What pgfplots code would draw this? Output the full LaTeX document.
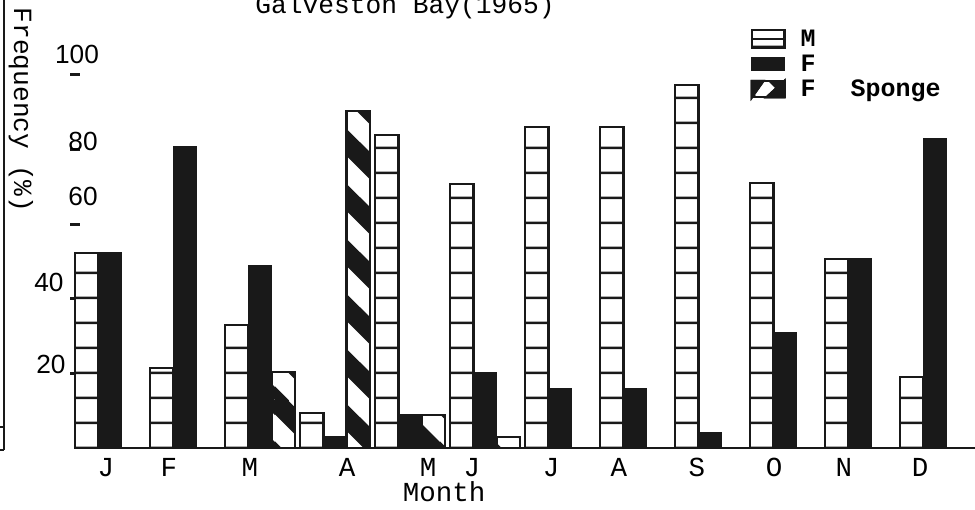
\documentclass[border=0pt]{standalone}
\usepackage{fontspec}
\setmainfont{Liberation Mono}
\newfontfamily\numfont{Liberation Sans}
\usepackage{pgfplots}
\pgfplotsset{compat=1.18}
\usetikzlibrary{patterns}

\pgfdeclarepatternformonly{hstripes}{\pgfpointorigin}{\pgfpoint{10pt}{10pt}}{\pgfpoint{10pt}{10pt}}{%
  \pgfsetlinewidth{1pt}%
  \pgfpathmoveto{\pgfpoint{-1pt}{5pt}}\pgfpathlineto{\pgfpoint{11pt}{5pt}}\pgfusepath{stroke}}

\pgfdeclarepatternformonly{sponge}{\pgfpointorigin}{\pgfpoint{22pt}{22pt}}{\pgfpoint{22pt}{22pt}}{%
  \pgfsetlinewidth{7.8pt}%
  \pgfpathmoveto{\pgfpoint{-11pt}{11pt}}\pgfpathlineto{\pgfpoint{11pt}{-11pt}}%
  \pgfpathmoveto{\pgfpoint{0pt}{22pt}}\pgfpathlineto{\pgfpoint{22pt}{0pt}}%
  \pgfpathmoveto{\pgfpoint{11pt}{33pt}}\pgfpathlineto{\pgfpoint{33pt}{11pt}}%
  \pgfusepath{stroke}}

\definecolor{ink}{RGB}{25,25,25}

\pgfplotstableread{
x y
0.155 52.3
1.155 21.4
2.155 33.0
3.155 9.4
4.155 83.9
5.155 70.8
6.155 86.0
7.155 86.0
8.155 97.3
9.155 71.0
10.155 50.7
11.155 19.0
}\tableM

\pgfplotstableread{
x y
0.465 52.3
1.465 80.7
2.465 48.8
3.465 2.9
4.465 8.8
5.465 20.1
6.465 16.0
7.465 16.0
8.465 4.0
9.465 31.0
10.465 50.7
11.465 82.8
}\tableF

\pgfplotstableread{
x y
2.775 20.4
3.775 90.3
4.775 8.8
5.775 2.9
}\tableS

\begin{document}
\begin{tikzpicture}
\begin{axis}[
  scale only axis, width=360pt, height=179.2pt,
  at={(0pt,0pt)}, anchor=south west,
  xmin=0, xmax=12, ymin=0, ymax=120.1,
  axis x line=bottom, axis y line=left,
  axis line style={-, line width=1pt, ink},
  y axis line style={draw=none},
  ytick={20,40,60,80,100}, yticklabels={},
  ytick style={line width=1.2pt, ink},
  major tick length=4pt, tick align=center,
  xtick={0.413,1.253,2.333,3.627,4.707,5.293,6.347,7.253,8.293,9.32,10.253,11.267},
  xticklabels={J,F,M,A,M,J,J,A,S,O,N,D},
  xtick style={draw=none},
  xticklabel style={font=\fontsize{11}{12}\selectfont, yshift=3.5pt},
  ybar, bar width=0.31,
  clip=false,
  legend style={at={(axis cs:9.0,113.4)}, anchor=north west, draw=none, fill=none,
    font=\fontsize{10}{12}\selectfont\bfseries, row sep=-1pt, inner sep=0pt,
    nodes={text height=6.5pt, text depth=0.5pt},
    /tikz/every odd column/.append style={column sep=4pt}},
  legend cell align=left,
]
\addplot[bar shift=0pt, draw=ink, line width=1pt, fill=white, postaction={pattern=hstripes, pattern color=ink},
  legend image code/.code={%
    \draw[line width=1pt, fill=white] (0pt,-3.4pt) rectangle (13pt,3.6pt);
    \draw[line width=1pt] (0pt,0.1pt) -- (13pt,0.1pt);}]
  table[x=x, y=y] {\tableM};
\addlegendentry{M}
\addplot[bar shift=0pt, draw=ink, line width=0.6pt, fill=ink,
  legend image code/.code={%
    \fill[ink] (0pt,-2.6pt) rectangle (13pt,2.6pt);}]
  table[x=x, y=y] {\tableF};
\addlegendentry{F}
\addplot[bar shift=0pt, draw=ink, line width=1pt, fill=white, postaction={pattern=sponge, pattern color=ink},
  legend image code/.code={%
    \draw[line width=1pt] (0pt,-3.2pt) rectangle (13pt,3.2pt);
    \fill[ink] (0pt,3.2pt) -- (4.5pt,3.2pt) -- (0pt,-3.2pt) -- cycle;
    \fill[ink] (13pt,3.2pt) -- (13pt,-3.2pt) -- (6pt,-3.2pt) -- cycle;}]
  table[x=x, y=y] {\tableS};
\addlegendentry{F\hspace{14pt}Sponge}

% y tick labels
\node[font=\numfont\fontsize{10.5}{12}\selectfont] at (axis cs:0.027,105.6) {100};
\node[font=\numfont\fontsize{10.5}{12}\selectfont] at (axis cs:0.107,82.3) {80};
\node[font=\numfont\fontsize{10.5}{12}\selectfont] at (axis cs:0.107,67.3) {60};
\node[font=\numfont\fontsize{10.5}{12}\selectfont] at (axis cs:-0.347,44.5) {40};
\node[font=\numfont\fontsize{10.5}{12}\selectfont] at (axis cs:-0.32,22.3) {20};
% axis titles
\node[rotate=-90, font=\fontsize{10.5}{12}\selectfont] at (axis cs:-0.72,90.6) {Frequency (\%)};
\node[font=\fontsize{11}{12}\selectfont] at (axis cs:4.92,-11.8) {Month};
\node[anchor=base, font=\fontsize{10.5}{12}\selectfont] at (axis cs:4.4,116.6) {Galveston Bay(1965)};
% scan frame on the left
\draw[line width=1pt, ink] (axis cs:-0.947,121) -- (axis cs:-0.947,-0.6);
\draw[line width=1pt, ink] (axis cs:-1.01,5.6) -- (axis cs:-0.947,5.6);
\draw[line width=1pt, ink] (axis cs:-1.01,-0.6) -- (axis cs:-0.947,-0.6);
\end{axis}
\pgfresetboundingbox
\path[use as bounding box] (-30pt,-24.4pt) rectangle (360pt,179.2pt);
\end{tikzpicture}
\end{document}
